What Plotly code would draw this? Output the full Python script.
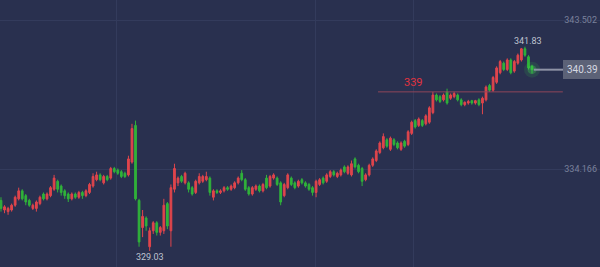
import plotly.graph_objects as go

opens = [332.2,331.6,331.5,331.6,331.9,332.3,332.8,332.5,332.2,331.7,
         331.7,332.0,332.6,332.3,332.5,332.9,333.4,333.1,332.8,332.6,
         332.3,332.6,332.4,332.7,332.5,332.7,333.1,333.5,333.8,333.3,
         333.7,333.6,334.2,334.1,334.0,333.9,333.8,334.6,336.9,332.2,
         330.5,331.1,329.3,330.3,330.8,330.2,330.3,332.0,330.3,332.9,
         333.3,333.7,333.3,333.3,333.0,332.7,333.3,333.4,333.5,333.6,
         332.4,332.8,332.7,332.8,333.0,332.9,333.0,333.3,333.9,333.5,
         333.0,332.6,332.9,333.1,332.8,333.6,333.1,333.6,333.6,333.3,
         332.5,333.0,333.6,333.3,333.1,333.5,333.3,333.2,333.0,332.7,
         333.2,333.6,333.4,333.7,334.0,333.7,333.8,334.3,333.9,333.8,
         334.8,334.4,334.2,333.5,333.8,334.4,334.7,335.2,335.5,336.0,
         335.4,336.0,335.8,335.4,335.9,335.7,336.4,337.2,336.9,337.2,
         337.0,337.1,337.7,338.8,338.7,338.5,339.0,338.6,338.7,338.8,
         338.5,338.2,338.3,338.45,338.3,338.5,338.3,338.5,339.4,339.1,
         339.6,340.2,340.8,340.4,341.0,340.3,340.8,341.0,341.7,341.2,
         340.6]
highs = [332.4,331.9,331.8,332.0,332.5,333.0,332.9,332.6,332.3,332.0,
         332.2,332.5,332.7,332.7,333.1,333.8,333.5,333.2,332.9,332.7,
         332.7,332.7,332.8,332.8,332.9,333.3,333.9,334.0,333.9,333.8,
         333.8,334.3,334.3,334.2,334.1,334.0,335.0,337.0,337.2,332.3,
         331.6,331.2,330.5,330.9,330.9,330.6,332.3,332.1,333.2,334.5,
         333.7,333.8,334.0,333.4,333.1,333.5,333.9,333.8,334.0,333.7,
         332.9,332.9,332.9,333.1,333.1,333.2,333.4,333.7,334.1,333.6,
         333.1,333.1,333.2,333.2,333.3,333.8,333.8,333.9,333.7,333.4,
         333.3,333.9,333.7,333.4,333.5,333.6,333.4,333.3,333.1,333.5,
         333.6,333.7,333.9,334.1,334.1,334.0,334.2,334.4,334.4,334.7,
         334.9,334.5,334.3,333.9,334.5,334.9,335.4,335.9,336.4,336.1,
         336.2,336.1,335.9,335.9,336.0,336.6,337.2,337.3,337.4,337.3,
         337.6,338.1,339.0,338.9,338.8,338.9,339.2,338.9,339.0,338.9,
         338.6,338.4,338.5,338.5,338.5,338.6,338.7,339.4,339.5,340.0,
         340.6,341.0,340.9,341.1,341.1,341.0,341.4,341.75,341.83,341.3,
         340.7]
lows = [331.5,331.4,331.3,331.5,331.8,332.2,332.2,331.9,331.8,331.6,
        331.5,331.9,332.2,332.2,332.4,332.8,332.7,332.5,332.3,332.1,
        332.2,332.3,332.3,332.3,332.4,332.6,333.0,333.4,333.4,333.2,
        333.4,333.5,333.9,333.8,333.6,333.6,333.7,334.5,332.2,329.3,
        329.9,330.3,329.03,330.1,330.0,330.0,330.1,330.4,329.3,332.7,
        333.1,333.3,333.2,332.7,332.5,332.6,333.2,333.3,333.4,332.5,
        332.2,332.6,332.6,332.7,332.8,332.8,332.9,333.2,333.4,332.8,
        332.5,332.5,332.8,332.7,332.7,332.9,333.0,333.5,333.1,331.9,
        332.4,332.9,333.1,332.9,333.0,333.2,333.0,332.8,332.5,332.4,
        333.1,333.2,333.3,333.6,333.7,333.6,333.7,333.9,333.8,333.7,
        334.2,333.9,333.1,333.4,333.7,334.3,334.6,335.1,335.4,335.5,
        335.3,335.6,335.4,335.3,335.5,335.6,336.3,336.7,336.8,336.8,
        336.9,337.0,337.6,338.4,338.3,338.4,338.2,338.5,338.6,338.4,
        338.1,338.1,338.2,338.2,338.2,338.1,337.6,338.4,339.0,339.0,
        339.5,340.1,340.3,340.3,340.1,340.2,340.7,340.9,341.2,340.4,
        340.15]
closes = [331.7,331.8,331.7,331.9,332.4,332.8,332.3,332.1,331.9,331.9,
          332.1,332.4,332.3,332.6,333.0,333.6,332.9,332.7,332.5,332.3,
          332.6,332.4,332.7,332.5,332.8,333.2,333.7,333.8,333.5,333.7,
          333.5,334.2,334.0,333.9,333.7,333.7,334.8,336.7,332.3,329.6,
          331.2,330.6,330.3,330.8,330.2,330.5,331.9,330.6,333.0,334.2,
          333.6,333.4,333.9,332.9,332.6,333.4,333.7,333.7,333.7,332.7,
          332.8,332.7,332.8,333.0,332.9,333.1,333.3,333.6,333.5,332.9,
          332.6,333.0,333.1,332.8,333.2,333.0,333.7,333.8,333.2,332.1,
          333.2,333.8,333.2,333.0,333.4,333.3,333.1,332.9,332.7,333.4,
          333.5,333.3,333.8,334.0,333.8,333.9,334.1,334.0,334.3,334.5,
          334.3,334.0,333.4,333.8,334.4,334.8,335.3,335.8,336.2,335.6,
          336.1,335.7,335.5,335.8,335.6,336.5,337.1,336.8,337.3,336.9,
          337.5,338.0,338.8,338.5,338.4,338.8,338.3,338.8,338.9,338.5,
          338.2,338.35,338.4,338.3,338.45,338.2,338.6,339.3,339.1,339.9,
          340.5,340.9,340.4,341.0,340.2,340.9,341.3,341.7,341.3,340.5,
          340.39]

idx = list(range(len(closes)))
grid_values = [334.166, 343.502]
grid_labels = ["334.166", "343.502"]
vgrid_positions = [32.5, 88.7, 116.4]
level_value = 339.0
level_label = "339"
last_price = 340.39
high_value = 341.83
high_idx = 148
low_value = 329.03
low_idx = 42

BG = "#29304f"
RED = "#e0454c"
GREEN = "#30b23a"

fig = go.Figure()

fig.add_trace(go.Candlestick(
    x=idx, open=opens, high=highs, low=lows, close=closes,
    increasing=dict(line=dict(color=RED, width=1), fillcolor=RED),
    decreasing=dict(line=dict(color=GREEN, width=1), fillcolor=GREEN),
    whiskerwidth=0, showlegend=False, hoverinfo="skip",
))

last_i = idx[-1]
# soft glow on last price
fig.add_trace(go.Scatter(x=[last_i], y=[last_price], mode="markers",
                         marker=dict(size=16, color="rgba(60,220,70,0.12)", line=dict(width=0)),
                         showlegend=False, hoverinfo="skip"))
fig.add_trace(go.Scatter(x=[last_i], y=[last_price], mode="markers",
                         marker=dict(size=9, color="rgba(70,230,80,0.28)", line=dict(width=0)),
                         showlegend=False, hoverinfo="skip"))

# price line to tag
fig.add_shape(type="line", xref="x", yref="y", x0=last_i + 0.5, x1=159.0,
              y0=last_price, y1=last_price, line=dict(color="#8e93a6", width=2))

# 339 level line
fig.add_shape(type="line", xref="x", yref="y", x0=106.5, x1=158.7,
              y0=level_value, y1=level_value, line=dict(color="#8f4659", width=1))

fig.add_annotation(x=116.4, y=level_value, xref="x", yref="y", text=level_label,
                   showarrow=False, yanchor="bottom", yshift=1,
                   font=dict(color="#e2333f", size=11, family="Roboto"))

fig.add_annotation(x=high_idx, y=high_value, xref="x", yref="y", text=f"{high_value:.2f}",
                   showarrow=False, yanchor="bottom", xshift=3, yshift=-1,
                   font=dict(color="#bfc3d0", size=9, family="Roboto"))
fig.add_annotation(x=low_idx, y=low_value, xref="x", yref="y", text=f"{low_value:.2f}",
                   showarrow=False, yanchor="top", yshift=1,
                   font=dict(color="#bfc3d0", size=9, family="Roboto"))

# price tag
fig.add_annotation(x=1.0, y=last_price, xref="paper", yref="y", text=f"{last_price:.2f}",
                   showarrow=False, xanchor="right", xshift=2,
                   bgcolor="#5c6277", bordercolor="#5c6277", borderpad=2, borderwidth=2,
                   font=dict(color="#d6d9e2", size=10, family="Roboto"))

fig.update_layout(
    width=600, height=267, margin=dict(l=0, r=0, t=0, b=0),
    paper_bgcolor=BG, plot_bgcolor=BG,
    xaxis=dict(range=[-0.28, 169.2], rangeslider=dict(visible=False),
               tickvals=vgrid_positions, showticklabels=False, showgrid=True,
               gridcolor="#333b5c", gridwidth=1, zeroline=False, showline=False),
    yaxis=dict(range=[328.03, 344.755], side="right", tickvals=grid_values,
               ticktext=grid_labels, ticklabelposition="inside", showgrid=True,
               gridcolor="#333b5c", gridwidth=1, zeroline=False, showline=False,
               tickfont=dict(color="#7a819b", size=9, family="Roboto")),
)

fig.write_html("out.html")
